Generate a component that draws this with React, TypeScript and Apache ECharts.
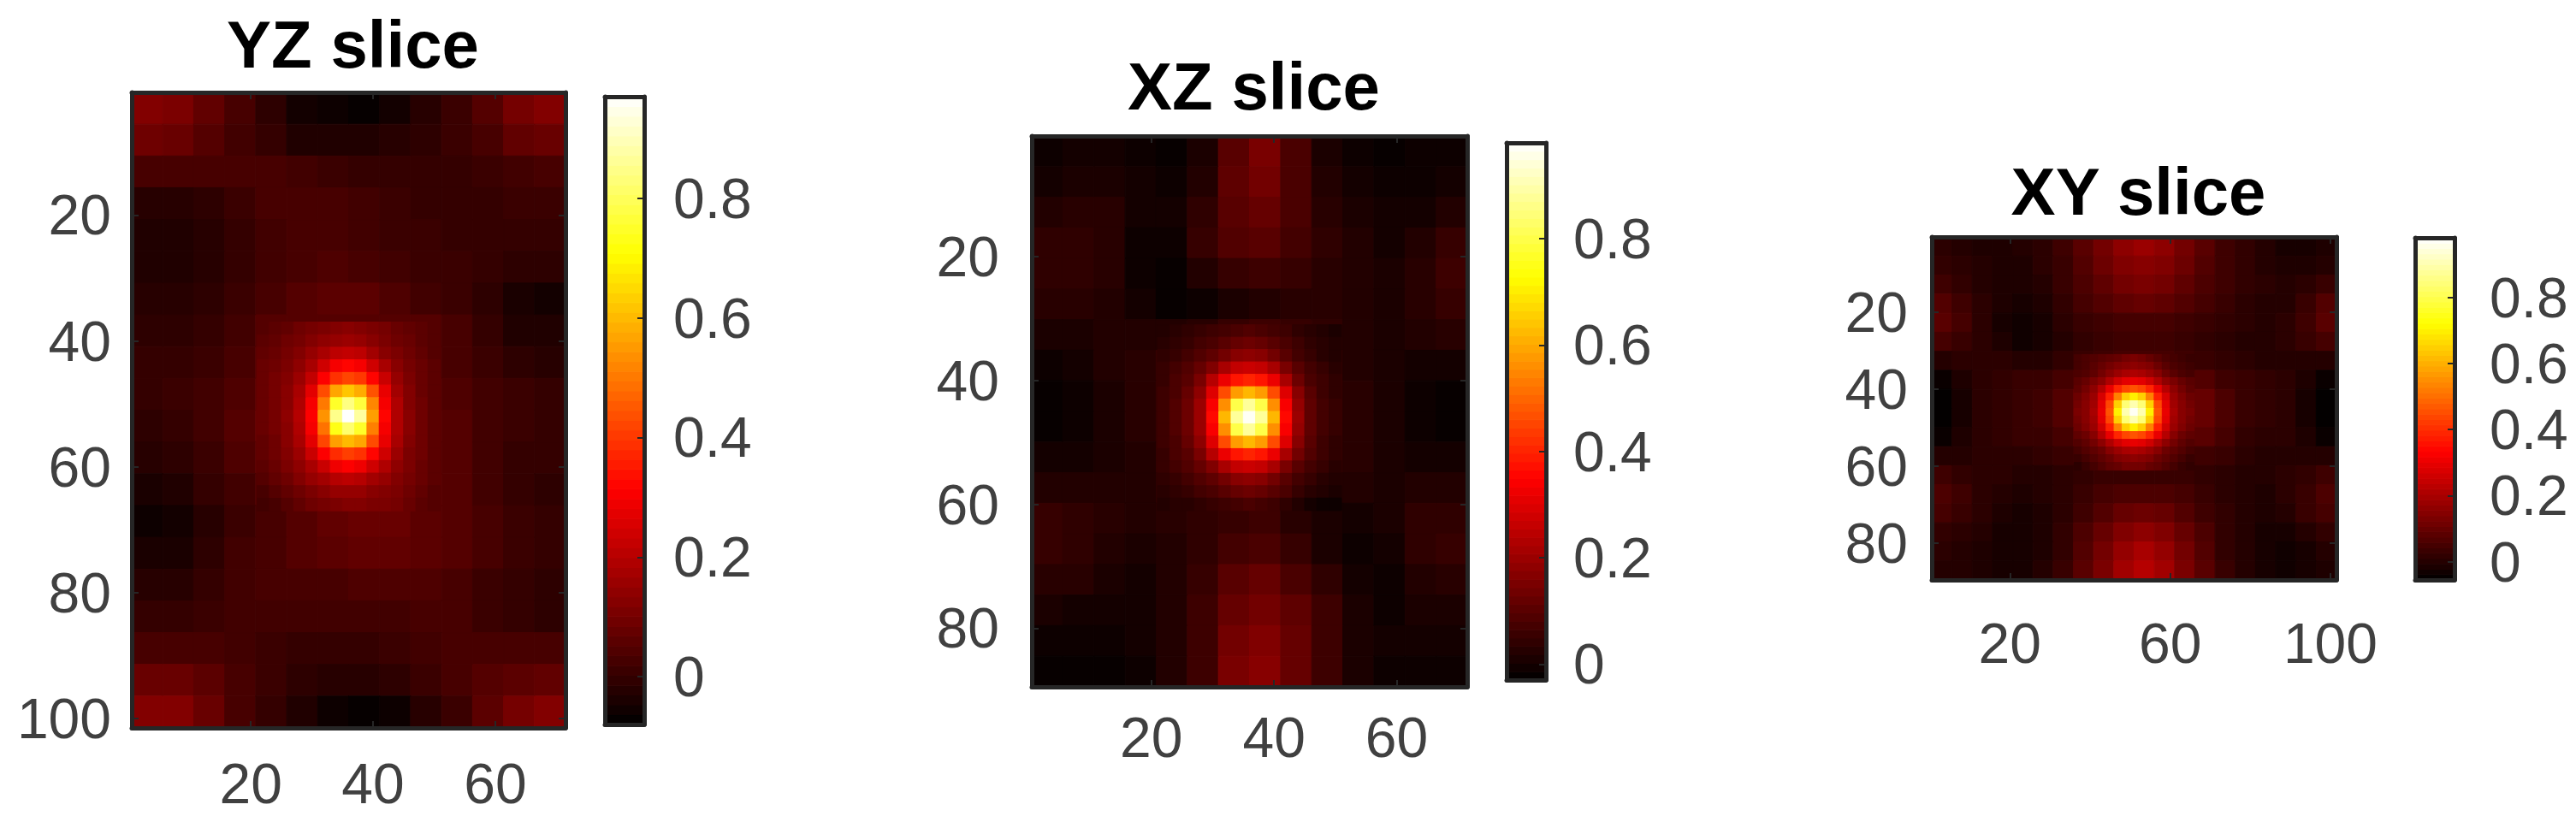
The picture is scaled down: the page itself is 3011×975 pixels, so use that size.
import React, { useEffect, useRef } from "react";
import * as echarts from "echarts";

const yzBackground = [
  [12,11,7,3,-1,-5,-6,-7,-5,-2,1,5,10,12],
  [9,8,5,2,0,-3,-3,-3,-2,-1,1,3,7,8],
  [3,3,3,3,3,2,1,0,0,0,0,1,2,3],
  [-2,-2,-1,1,3,3,3,2,1,0,0,0,1,1],
  [-3,-3,-2,0,2,3,3,2,1,1,0,0,0,0],
  [-3,-3,-2,0,2,3,4,3,2,1,1,0,-1,-1],
  [-2,-2,-1,1,3,5,6,6,4,2,1,-1,-4,-5],
  [-1,-1,0,2,5,5,5,5,5,5,3,0,-3,-3],
  [0,0,1,3,6,8,13,14,10,6,3,1,-1,-2],
  [0,1,2,4,7,9,20,20,12,7,4,2,1,0],
  [-1,0,2,5,8,9,30,30,12,7,5,2,1,0],
  [-2,-1,1,4,7,9,15,15,12,6,5,2,0,0],
  [-4,-3,0,2,5,8,11,11,11,7,5,2,0,-1],
  [-6,-5,-2,1,3,5,7,8,8,6,5,3,1,0],
  [-4,-4,-1,2,3,5,6,7,7,6,5,3,1,0],
  [-2,-2,0,2,3,3,3,4,4,4,3,1,0,-1],
  [0,0,1,2,2,2,2,2,2,3,3,1,0,-1],
  [3,3,3,2,1,0,0,0,1,2,3,3,3,3],
  [8,8,6,3,1,-1,-2,-2,-1,1,3,5,6,7],
  [12,12,8,3,0,-3,-6,-7,-6,-2,1,6,10,12],
];
const yzPeak = [
  [5,6,7,9,10,11,12,13,12,11,10,8,7,6,5],
  [6,7,9,10,12,14,15,16,15,13,11,9,8,6,5],
  [7,8,10,12,15,18,21,22,21,17,13,11,9,7,5],
  [8,9,11,14,18,24,30,32,30,24,18,13,10,8,6],
  [8,10,12,16,22,31,39,42,40,32,23,15,11,8,6],
  [8,10,13,18,27,43,57,62,58,44,28,17,12,8,6],
  [8,10,13,19,30,50,75,84,77,52,30,19,12,9,6],
  [8,10,14,20,31,54,85,97,87,56,32,19,13,9,6],
  [8,10,13,19,30,49,73,82,75,51,30,19,13,9,6],
  [7,9,13,18,27,42,56,60,57,43,28,18,12,9,6],
  [7,9,12,16,23,31,38,41,39,32,24,16,11,9,6],
  [6,8,11,14,18,23,29,31,29,24,19,14,11,8,6],
  [5,7,9,12,15,17,20,21,20,17,15,12,10,8,6],
  [3,5,7,9,11,13,15,15,15,13,12,11,9,7,5],
  [2,3,5,7,9,10,11,12,12,11,11,10,8,6,5],
];
const xzBackground = [
  [-1,0,0,-1,-2,1,10,15,8,1,-1,-2,-1,-1],
  [0,1,1,0,-1,2,11,14,8,2,0,-1,-1,0],
  [2,3,3,0,0,4,10,12,8,3,1,0,0,2],
  [4,4,3,-1,-1,5,9,10,7,4,2,0,2,5],
  [4,4,3,-1,-2,2,5,6,5,3,2,1,3,6],
  [3,3,2,0,-2,-1,1,2,3,3,2,1,3,5],
  [1,1,2,2,2,3,5,6,5,4,2,1,2,3],
  [-1,0,2,3,5,7,9,11,9,6,2,1,0,0],
  [-2,-1,1,3,5,8,30,30,13,6,3,1,-1,-2],
  [-2,-1,1,3,5,8,30,30,13,6,3,1,-1,-2],
  [0,0,1,2,5,7,20,20,11,6,3,1,0,0],
  [2,2,2,2,4,6,7,8,6,3,2,1,2,2],
  [5,4,3,2,3,4,5,6,3,1,0,1,4,4],
  [5,4,2,1,2,4,7,8,5,1,-1,0,4,5],
  [3,3,1,0,2,5,10,12,8,4,0,-1,2,3],
  [1,0,0,0,2,6,12,14,11,6,1,-1,1,1],
  [-1,-1,-1,0,2,6,14,16,12,6,1,0,0,0],
  [-2,-2,-2,-1,2,6,15,17,12,6,1,-1,-1,-1],
];
const xzPeak = [
  [2,3,4,5,6,7,8,9,8,7,6,4,3,2,1],
  [3,4,5,7,8,10,12,13,12,10,8,6,4,3,2],
  [4,5,7,9,11,14,17,18,17,14,10,7,5,3,2],
  [5,7,9,12,16,22,26,27,26,22,15,10,7,5,3],
  [5,8,10,15,24,32,38,40,38,32,22,13,8,6,4],
  [6,8,12,18,30,46,58,62,58,46,30,17,10,6,4],
  [6,9,13,20,34,56,80,88,80,56,34,19,11,7,5],
  [6,9,13,20,36,62,88,97,88,62,36,20,11,7,5],
  [6,9,13,20,34,56,80,88,80,56,34,19,11,7,5],
  [6,8,12,18,30,46,58,62,58,46,30,17,10,6,4],
  [5,8,10,15,24,32,38,40,38,32,22,14,9,6,4],
  [5,7,9,12,16,22,26,27,26,22,15,10,7,5,3],
  [4,5,7,9,11,14,17,18,17,14,10,7,5,3,2],
  [3,4,5,7,8,10,12,13,12,10,8,5,3,2,1],
  [2,3,3,4,5,6,7,8,7,6,4,2,0,-1,-1],
];
const xyBackground = [
  [1,0,-1,-1,0,1,4,8,12,16,18,16,12,8,4,2,0,-2,-2,-1],
  [2,1,0,-1,-1,1,3,7,11,14,15,14,11,7,4,2,0,-1,-1,0],
  [4,2,0,-1,-1,0,3,6,9,12,13,12,9,6,4,2,1,0,1,3],
  [7,4,1,-1,-2,-1,2,5,7,9,10,9,7,5,3,1,0,0,3,7],
  [8,5,1,-2,-3,-2,1,3,4,5,5,5,4,3,2,1,0,1,4,8],
  [5,3,1,-1,-3,-2,0,2,3,4,4,4,3,2,1,0,0,1,3,5],
  [0,1,1,1,0,0,2,3,4,5,5,5,4,3,2,1,0,0,0,0],
  [-4,-1,1,2,3,3,5,6,12,14,14,14,12,7,4,3,2,1,-1,-4],
  [-5,-2,1,2,3,4,7,10,14,30,30,30,14,10,6,3,2,1,-2,-5],
  [-5,-2,1,2,3,4,7,10,14,30,30,30,14,10,6,3,2,1,-2,-5],
  [-4,-1,1,2,3,3,5,8,12,16,16,15,11,8,5,2,1,1,-1,-4],
  [0,0,1,1,1,2,3,4,5,6,6,6,5,4,3,1,0,0,0,0],
  [4,2,1,1,0,0,1,2,3,3,3,3,3,2,1,0,0,1,2,4],
  [6,4,1,0,-1,0,1,3,5,6,6,6,5,3,1,0,-1,1,3,6],
  [5,3,1,-1,-2,-1,1,4,7,10,11,10,7,4,2,0,-1,0,3,5],
  [2,1,0,-2,-2,-1,2,6,10,14,16,14,10,6,2,0,-2,-2,0,2],
  [1,0,-1,-2,-2,-1,2,7,12,17,20,17,12,7,2,0,-2,-3,-2,0],
  [0,0,-1,-2,-2,0,3,8,13,19,22,19,13,8,3,0,-2,-3,-2,-1],
];
const xyPeak = [
  [5,6,7,8,9,10,12,13,12,10,8,6,5,4,3],
  [5,6,8,10,12,14,15,16,15,14,11,8,6,5,4],
  [6,7,9,12,15,18,20,21,20,18,15,11,8,6,5],
  [8,10,13,16,21,26,29,30,29,26,21,16,13,10,8],
  [9,12,16,22,30,39,44,46,44,39,30,22,16,12,9],
  [11,14,18,27,38,53,65,70,65,53,38,27,18,14,11],
  [12,15,19,29,44,65,84,90,84,65,44,29,19,15,12],
  [13,15,20,30,46,70,90,97,90,70,46,30,20,15,13],
  [12,15,19,29,44,65,84,90,84,65,44,29,19,15,12],
  [11,14,18,26,38,53,65,70,65,53,38,26,18,14,11],
  [9,11,15,22,30,39,44,46,44,39,30,22,15,11,9],
  [7,9,12,16,21,26,29,30,29,26,21,16,12,9,7],
  [5,7,9,11,15,18,20,21,20,18,15,11,9,7,5],
  [3,5,7,9,11,14,15,16,15,14,11,9,7,5,3],
  [1,3,5,7,9,10,12,12,12,10,9,7,5,3,2],
];

const titles = ["YZ slice", "XZ slice", "XY slice"];
const colorbarTicks = [0, 0.2, 0.4, 0.6, 0.8];

const INK = "#404040";
const FRAME = "#262626";
const FONT = "'Liberation Sans', Arial, sans-serif";
const PEAK_STEP = 2;
const COLOR_LEVELS = 64;

const panels = [
  { title: titles[0], nx: 71, ny: 101, bg: yzBackground, peak: yzPeak, peakX0: 21, peakY0: 37,
    xTicks: [20, 40, 60], yTicks: [20, 40, 60, 80, 100], cMin: -0.08, cMax: 0.97,
    left: 154, top: 108, width: 507, height: 743,
    barLeft: 707, barTop: 113, barWidth: 46, barHeight: 734, titleY: 8,
    xGap: 32, yGap: 24, barGap: 34 },
  { title: titles[1], nx: 71, ny: 89, bg: xzBackground, peak: xzPeak, peakX0: 21, peakY0: 31,
    xTicks: [20, 40, 60], yTicks: [20, 40, 60, 80], cMin: -0.03, cMax: 0.98,
    left: 1206, top: 159, width: 509, height: 644,
    barLeft: 1761, barTop: 167, barWidth: 46, barHeight: 628, titleY: 57,
    xGap: 26, yGap: 38, barGap: 32 },
  { title: titles[2], nx: 101, ny: 89, bg: xyBackground, peak: xyPeak, peakX0: 36, peakY0: 31,
    xTicks: [20, 60, 100], yTicks: [20, 40, 60, 80], cMin: -0.055, cMax: 0.98,
    left: 2258, top: 277, width: 473, height: 401,
    barLeft: 2823, barTop: 278, barWidth: 46, barHeight: 400, titleY: 180,
    xGap: 41, yGap: 28, barGap: 41 },
];

function hot(t: number) {
  const c = (x: number) => Math.round(255 * Math.max(0, Math.min(1, x)));
  return `rgb(${c(t / 0.375)},${c((t - 0.375) / 0.375)},${c((t - 0.75) / 0.25)})`;
}

function cellsFrom(rows: number[][], x0: number, y0: number, dx: number, dy: number) {
  const out: number[][] = [];
  rows.forEach((row, r) =>
    row.forEach((v, c) => {
      out.push([x0 + c * dx, x0 + (c + 1) * dx, y0 + r * dy, y0 + (r + 1) * dy, v / 100]);
    }),
  );
  return out;
}

function cellRenderer(cMin: number, cMax: number) {
  return (_p: any, api: any) => {
    const a = api.coord([api.value(0), api.value(2)]);
    const b = api.coord([api.value(1), api.value(3)]);
    const color = hot((api.value(4) - cMin) / (cMax - cMin));
    return {
      type: "rect",
      shape: {
        x: Math.min(a[0], b[0]),
        y: Math.min(a[1], b[1]),
        width: Math.abs(b[0] - a[0]),
        height: Math.abs(b[1] - a[1]),
      },
      style: { fill: color, stroke: color, lineWidth: 1 },
    };
  };
}

function buildOption() {
  const grid: any[] = [];
  const xAxis: any[] = [];
  const yAxis: any[] = [];
  const series: any[] = [];
  const title: any[] = [];
  const line = { show: true, onZero: false, lineStyle: { color: FRAME, width: 5 } };
  const label = { color: INK, fontSize: 66, fontFamily: FONT };
  const tick = (vals: number[]) => ({
    show: true, inside: true, length: 8, customValues: vals, lineStyle: { color: FRAME, width: 2 },
  });
  panels.forEach((p) => {
    const g = grid.length;
    grid.push({ left: p.left, top: p.top, width: p.width, height: p.height, show: false });
    grid.push({ left: p.barLeft, top: p.barTop, width: p.barWidth, height: p.barHeight, show: false });
    title.push({
      text: p.title, left: p.left + p.width / 2, top: p.titleY, textAlign: "center",
      textStyle: { color: "#000", fontSize: 78, fontWeight: "bold", fontFamily: FONT },
    });
    const xBase = { type: "value", min: 0.5, max: p.nx + 0.5, gridIndex: g, splitLine: { show: false }, z: 5 };
    const yBase = { type: "value", min: 0.5, max: p.ny + 0.5, inverse: true, gridIndex: g, splitLine: { show: false }, z: 5 };
    const xIdx = xAxis.length;
    const yIdx = yAxis.length;
    xAxis.push({ ...xBase, position: "bottom", axisLine: line, axisTick: tick(p.xTicks),
      axisLabel: { ...label, customValues: p.xTicks, margin: p.xGap } });
    xAxis.push({ ...xBase, position: "top", axisLine: line, axisTick: tick(p.xTicks), axisLabel: { show: false } });
    yAxis.push({ ...yBase, position: "left", axisLine: line, axisTick: tick(p.yTicks),
      axisLabel: { ...label, customValues: p.yTicks, margin: p.yGap } });
    yAxis.push({ ...yBase, position: "right", axisLine: line, axisTick: tick(p.yTicks), axisLabel: { show: false } });
    series.push({
      type: "custom", xAxisIndex: xIdx, yAxisIndex: yIdx, silent: true, z: 2,
      encode: { x: [0, 1], y: [2, 3] },
      renderItem: cellRenderer(p.cMin, p.cMax),
      data: cellsFrom(p.bg, 0.5, 0.5, p.nx / p.bg[0].length, p.ny / p.bg.length),
    });
    series.push({
      type: "custom", xAxisIndex: xIdx, yAxisIndex: yIdx, silent: true, z: 3,
      encode: { x: [0, 1], y: [2, 3] },
      renderItem: cellRenderer(p.cMin, p.cMax),
      data: cellsFrom(p.peak, p.peakX0, p.peakY0, PEAK_STEP, PEAK_STEP),
    });

    // Colour bar
    const bx = { type: "value", min: 0, max: 1, gridIndex: g + 1, splitLine: { show: false }, z: 5,
      axisTick: { show: false }, axisLabel: { show: false }, axisLine: line };
    const by = { type: "value", min: p.cMin, max: p.cMax, gridIndex: g + 1, splitLine: { show: false }, z: 5 };
    const bxIdx = xAxis.length;
    const byIdx = yAxis.length;
    xAxis.push({ ...bx, position: "bottom" });
    xAxis.push({ ...bx, position: "top" });
    yAxis.push({ ...by, position: "right", axisLine: line,
      axisTick: tick(colorbarTicks),
      axisLabel: { ...label, customValues: colorbarTicks, margin: p.barGap } });
    yAxis.push({ ...by, position: "left", axisLine: line, axisTick: { show: false }, axisLabel: { show: false } });
    const levels: number[][] = [];
    const dv = (p.cMax - p.cMin) / COLOR_LEVELS;
    for (let i = 0; i < COLOR_LEVELS; i++) {
      const lo = p.cMin + i * dv;
      levels.push([0, 1, lo, lo + dv, lo + dv / 2]);
    }
    series.push({
      type: "custom", xAxisIndex: bxIdx, yAxisIndex: byIdx, silent: true, z: 2,
      encode: { x: [0, 1], y: [2, 3] },
      renderItem: cellRenderer(p.cMin, p.cMax),
      data: levels,
    });
  });
  return { animation: false, backgroundColor: "#fff", title, grid, xAxis, yAxis, series };
}

export default function App() {
  const ref = useRef<HTMLDivElement>(null);
  useEffect(() => {
    const chart = echarts.init(ref.current!, undefined, { renderer: "svg" });
    chart.setOption(buildOption());
    return () => chart.dispose();
  }, []);
  return <div ref={ref} style={{ position: "absolute", left: 0, top: 0, width: 3011, height: 975 }} />;
}
